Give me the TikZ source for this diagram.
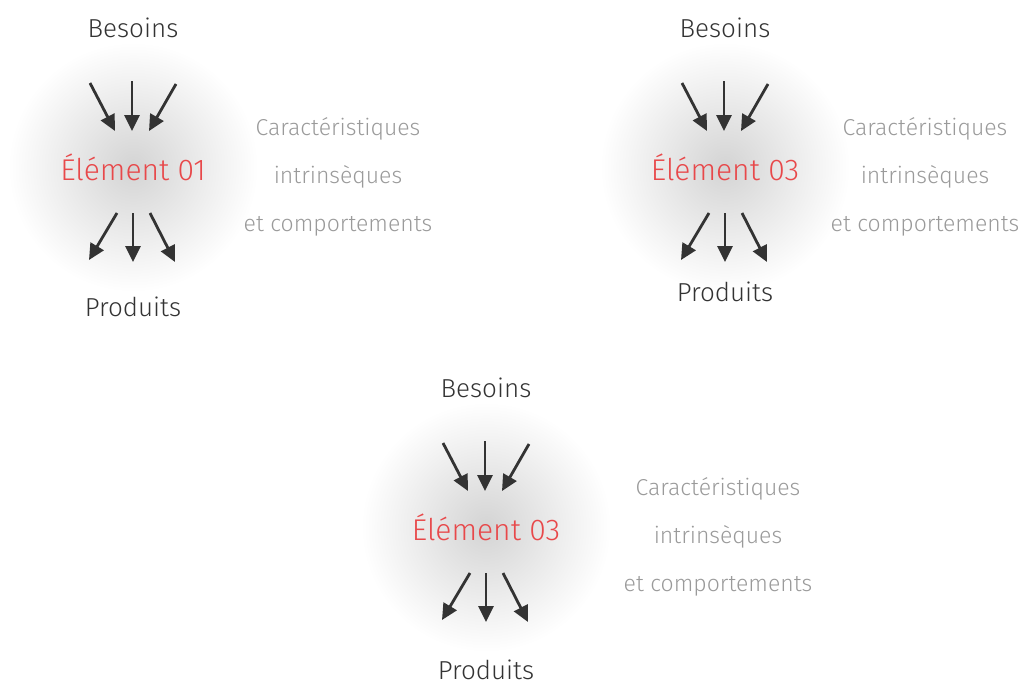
\documentclass[tikz,border=0pt]{standalone}
\usepackage{fontspec}
\setmainfont{Fira Sans Light}
\usetikzlibrary{arrows.meta,calc}
\definecolor{ink}{HTML}{333333}
\definecolor{elemred}{HTML}{E8484A}
\definecolor{descgray}{HTML}{9A9A9A}

% One cell: glow, element name, needs in, products out, description on the right
% #1 prefix, #2 cx, #3 cy, #4 element label, #5 products offset, #6 description offset
\newcommand{\cellule}[6]{%
  \shade[inner color=black!17, outer color=white] (#2,#3) circle (125);
  \node[elem] (#1elem) at (#2,#3) {#4};
  \node[lbl] (#1bes) at ($(#2,#3)+(0,-139)$) {Besoins};
  \node[lbl] (#1prod) at ($(#2,#3)+(0,#5)$) {Produits};
  \node[desc] (#1desc) at ($(#2,#3)+(#6,10)$) {Caractéristiques\\intrinsèques\\et comportements};
  \coordinate (#1a1) at ($(#2,#3)+(-43,-84)$);
  \coordinate (#1b1) at ($(#2,#3)+(-18,-36)$);
  \coordinate (#1a2) at ($(#2,#3)+(-1,-86)$);
  \coordinate (#1b2) at ($(#2,#3)+(-1,-36)$);
  \coordinate (#1a3) at ($(#2,#3)+(43,-83)$);
  \coordinate (#1b3) at ($(#2,#3)+(16,-36)$);
  \coordinate (#1c1) at ($(#2,#3)+(-16,46)$);
  \coordinate (#1d1) at ($(#2,#3)+(-44,93)$);
  \coordinate (#1c2) at ($(#2,#3)+(0,46)$);
  \coordinate (#1d2) at ($(#2,#3)+(0,95)$);
  \coordinate (#1c3) at ($(#2,#3)+(17,46)$);
  \coordinate (#1d3) at ($(#2,#3)+(42,95)$);
  \foreach \k in {1,2,3} {
    \draw[flow] (#1a\k) -- (#1b\k);
    \draw[flow] (#1c\k) -- (#1d\k);
  }
}

\begin{document}
\begin{tikzpicture}[x=1pt, y=-1pt,
  lbl/.style={text=ink, font=\fontsize{26}{28}\selectfont, inner sep=0pt},
  elem/.style={text=elemred, font=\fontsize{30}{32}\selectfont, inner sep=0pt},
  desc/.style={text=descgray, font=\fontsize{23}{48}\selectfont, align=center, inner sep=0pt},
  flow/.style={draw=ink, line width=2.8pt, -{Triangle[length=16pt, width=15pt]}}]
\useasboundingbox (0,0) rectangle (1033,691);
\cellule{g1}{133}{167}{Élément 01}{140}{205}
\cellule{g2}{725}{167}{Élément 03}{125}{200}
\cellule{g3}{486}{527}{Élément 03}{143}{232}
\end{tikzpicture}
\end{document}
